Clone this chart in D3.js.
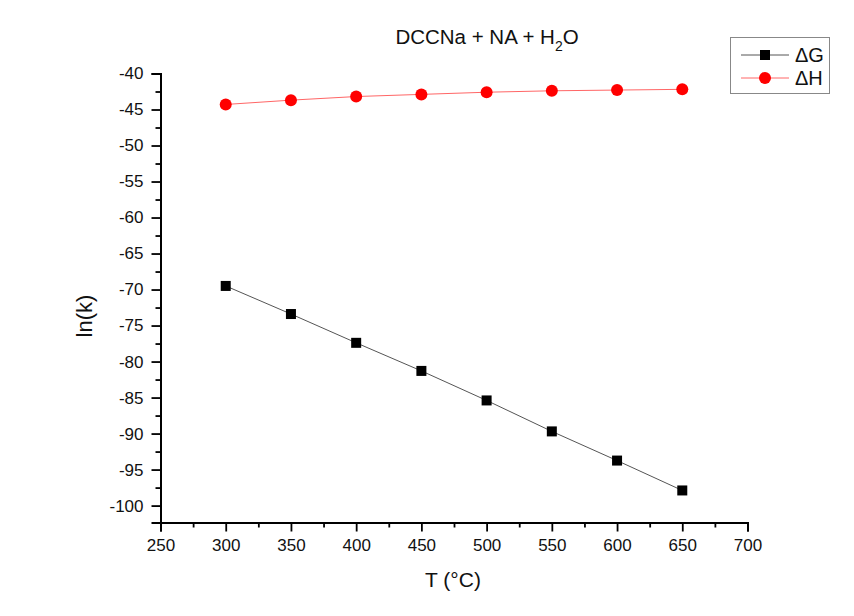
<!DOCTYPE html>
<html><head><meta charset="utf-8">
<script src="https://cdn.jsdelivr.net/npm/d3@7"></script>
<style>body{margin:0;background:#fff}svg{display:block;font-family:"Liberation Sans",Arial,sans-serif}</style>
</head><body>
<svg id="c" width="854" height="616"></svg>
<script>
const temps = [300, 350, 400, 450, 500, 550, 600, 650];
const dG = [-69.5, -73.4, -77.4, -81.3, -85.4, -89.7, -93.75, -97.9];
const dH = [-44.3, -43.7, -43.2, -42.9, -42.6, -42.4, -42.3, -42.2];
const xTicks = [250, 300, 350, 400, 450, 500, 550, 600, 650, 700];
const yTicks = [-40, -45, -50, -55, -60, -65, -70, -75, -80, -85, -90, -95, -100];

const svg = d3.select("#c");
const x = d3.scaleLinear().domain([250, 700]).range([160.5, 747.5]);
const y = d3.scaleLinear().domain([-102.35, -40]).range([522.5, 73.5]);

const xAxis = d3.axisBottom(x).tickValues(xTicks).tickSize(9).tickPadding(7).tickFormat(d3.format("d"));
const xMinor = d3.axisBottom(x).tickValues(d3.range(275, 700, 50)).tickSize(5).tickFormat("");
const yAxis = d3.axisLeft(y).tickValues(yTicks).tickSize(9).tickPadding(8).tickFormat(d => String(d));
const yMinor = d3.axisLeft(y).tickValues(d3.range(-42.5, -102, -5)).tickSize(5).tickFormat("");

function style(g){
  g.selectAll("path").attr("stroke","#000").attr("stroke-width",2);
  g.selectAll("line").attr("stroke","#000").attr("stroke-width",1.8);
  g.selectAll("text").attr("fill","#111").attr("font-size",17).attr("font-family","Liberation Sans, Arial, sans-serif");
}
svg.append("g").attr("transform","translate(0,522.5)").call(xMinor).call(style).select(".domain").remove();
svg.append("g").attr("transform","translate(0,522.5)").call(xAxis).call(style);
svg.append("g").attr("transform","translate(160.5,0)").call(yMinor).call(style).select(".domain").remove();
svg.append("g").attr("transform","translate(160.5,0)").call(yAxis).call(style);

// Axis titles
svg.append("text").attr("x", 453).attr("y", 587).attr("text-anchor","middle").attr("font-size",21).attr("fill","#111").text("T (°C)");
svg.append("text").attr("transform","translate(92,316) rotate(-90)").attr("text-anchor","middle").attr("font-size",22).attr("fill","#111").text("ln(k)");

// Title
const t = svg.append("text").attr("x", 487).attr("y", 44).attr("text-anchor","middle").attr("font-size",20.5).attr("fill","#111");
t.append("tspan").text("DCCNa + NA + H");
t.append("tspan").attr("font-size",14).attr("dy",7).text("2");
t.append("tspan").attr("dy",-7).text("O");

const line = d3.line().x((d,i)=>x(temps[i])).y(d=>y(d));
svg.append("path").datum(dG).attr("d", line).attr("fill","none").attr("stroke","#555").attr("stroke-width",1);
svg.append("path").datum(dH).attr("d", line).attr("fill","none").attr("stroke","#f66").attr("stroke-width",1);

svg.selectAll(".sq").data(dG).join("rect").attr("class","sq")
  .attr("x",(d,i)=>x(temps[i])-5).attr("y",d=>y(d)-5).attr("width",10).attr("height",10).attr("fill","#000");
svg.selectAll(".ci").data(dH).join("circle").attr("class","ci")
  .attr("cx",(d,i)=>x(temps[i])).attr("cy",d=>y(d)).attr("r",6).attr("fill","#f00");

// Legend
const lg = svg.append("g");
lg.append("rect").attr("x",730.5).attr("y",37.5).attr("width",99).attr("height",56).attr("fill","#fff").attr("stroke","#888").attr("stroke-width",1);
const names = ["ΔG","ΔH"];
[0,1].forEach(i=>{
  const yy = 55 + i*23;
  lg.append("line").attr("x1",741).attr("x2",789).attr("y1",yy).attr("y2",yy).attr("stroke", i? "#f66":"#555").attr("stroke-width",1);
  if(i===0) lg.append("rect").attr("x",760).attr("y",yy-5).attr("width",10).attr("height",10).attr("fill","#000");
  else lg.append("circle").attr("cx",765).attr("cy",yy).attr("r",6).attr("fill","#f00");
  lg.append("text").attr("x",795).attr("y",yy+7).attr("font-size",20).attr("fill","#111").text(names[i]);
});
</script>
</body></html>
